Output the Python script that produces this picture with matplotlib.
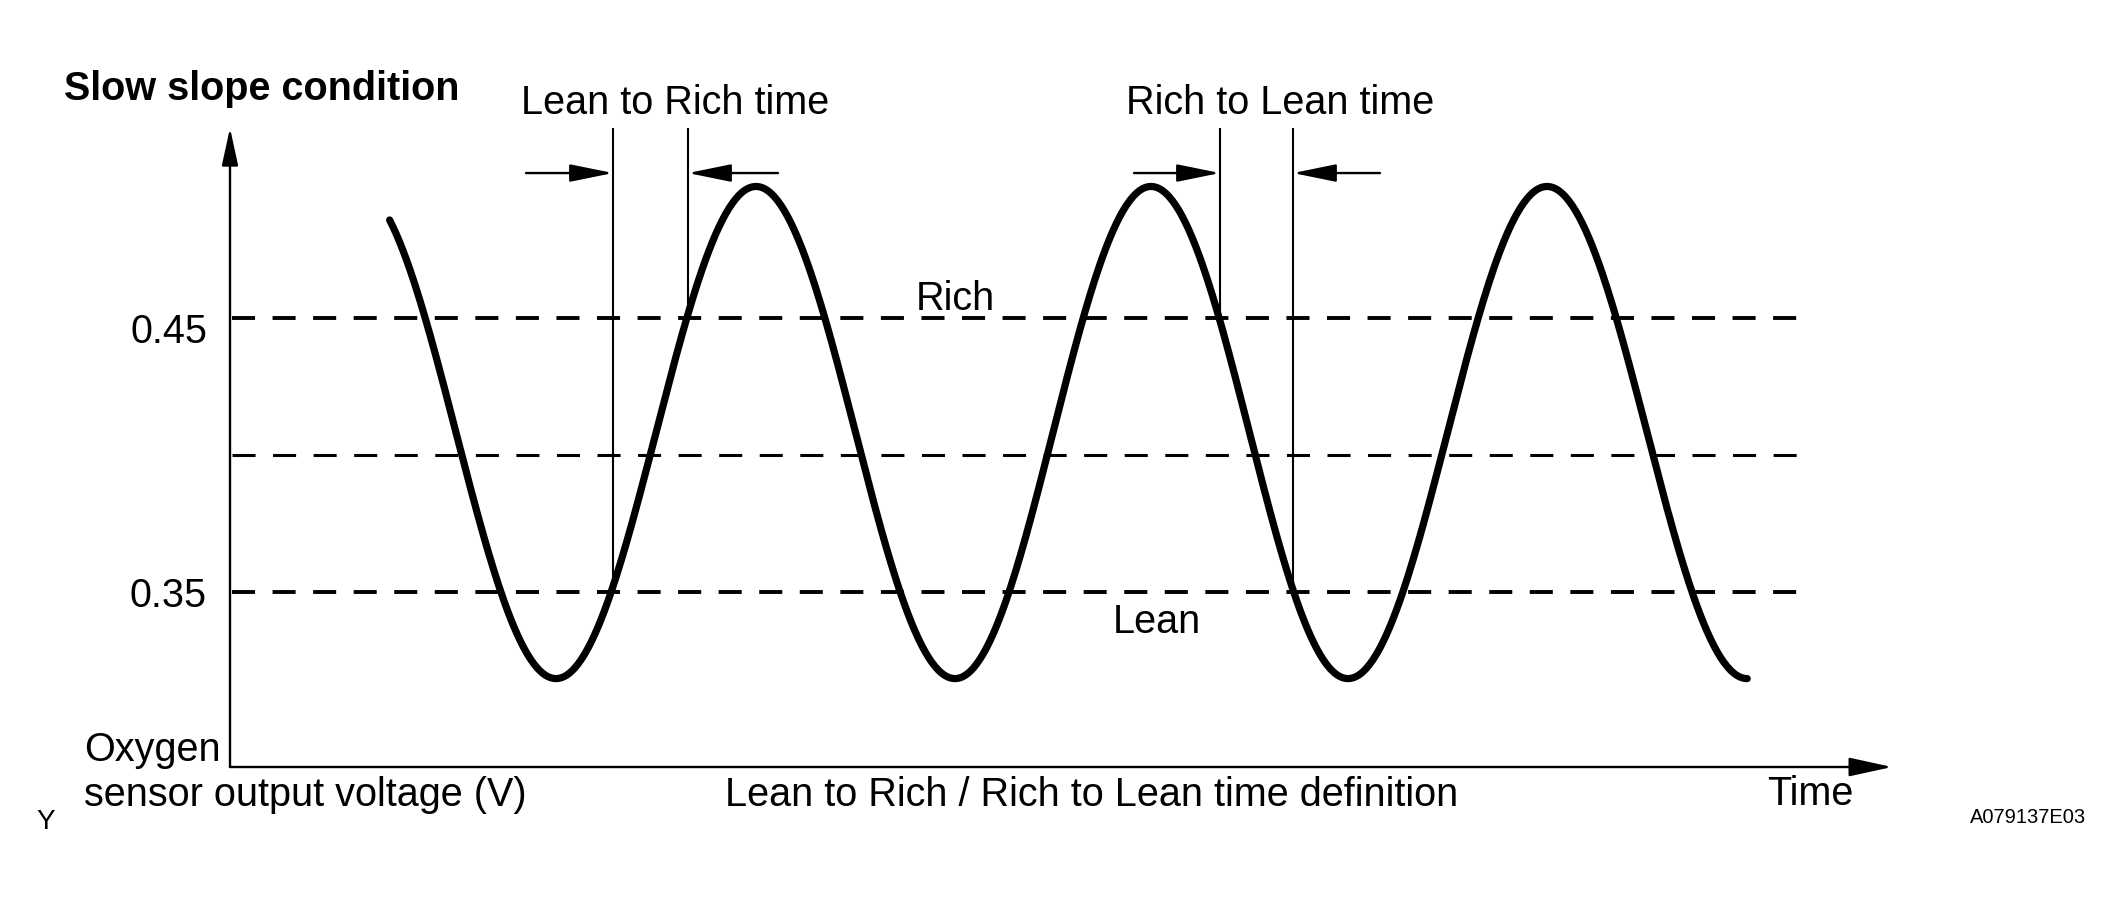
import numpy as np
import matplotlib
matplotlib.use("Agg")
import matplotlib.pyplot as plt

# ---------------- data ----------------
# turning points (peaks / troughs) of the oxygen-sensor waveform
turn_t = [3.15, 8.15, 13.15, 18.125, 23.025, 27.95, 32.925, 37.93]
turn_v = [0.498, 0.3184, 0.498, 0.3184, 0.498, 0.3184, 0.498, 0.3184]
start_t = 3.95          # visible start of the trace
end_t = 37.93           # visible end of the trace
ref_levels = [0.45, 0.40, 0.35]
tick_values = [0.45, 0.35]
tick_labels = ["0.45", "0.35"]
lean_to_rich = [9.575, 11.45]    # crossing of 0.35 (up) and 0.45 (up)
rich_to_lean = [24.75, 26.575]   # crossing of 0.45 (down) and 0.35 (down)
t_max = 41.55
v_min, v_max = 0.28613, 0.51934
dash_end = 39.55
marker_top = [0.5197, 0.5212]
arrow_v = 0.5029
arrow_tails_ltr = [7.4, 13.7]
arrow_tails_rtl = [22.6, 28.75]

plt.rcParams['font.family'] = ['Liberation Sans', 'DejaVu Sans']

W, H = 2124, 906
fig = plt.figure(figsize=(W / 100, H / 100), dpi=100)
ax = fig.add_axes([230 / W, 1 - 767 / H, (1892 - 230) / W, (767 - 128) / H])
ax.set_xlim(0, t_max)
ax.set_ylim(v_min, v_max)
ax.axis('off')


def fx(x):
    return x / W


def fy(y):
    return 1 - y / H


# axes with arrows
ax.annotate('', xy=(0, v_max), xytext=(0, v_min),
            arrowprops=dict(arrowstyle='-|>,head_length=23,head_width=5',
                            mutation_scale=1, lw=1.7, color='black',
                            shrinkA=0, shrinkB=0),
            annotation_clip=False)
ax.annotate('', xy=(t_max, v_min), xytext=(0, v_min),
            arrowprops=dict(arrowstyle='-|>,head_length=26.5,head_width=5.8',
                            mutation_scale=1, lw=1.7, color='black',
                            shrinkA=0, shrinkB=0),
            annotation_clip=False)

# reference dashed levels
for lvl in ref_levels:
    lw = 2.2 if abs(lvl - 0.40) < 1e-9 else 2.8
    ax.plot([0.05, dash_end], [lvl, lvl], color='black', lw=lw,
            dashes=(16.6 / lw, 12.6 / lw), solid_capstyle='butt')

# waveform: half-cosine between successive turning points
ts, vs = [], []
for i in range(len(turn_t) - 1):
    s = np.linspace(0, 1, 120)
    ts.append(turn_t[i] + (turn_t[i + 1] - turn_t[i]) * s)
    vs.append(turn_v[i] + (turn_v[i + 1] - turn_v[i]) * (1 - np.cos(np.pi * s)) / 2)
t = np.concatenate(ts)
v = np.concatenate(vs)
m = (t >= start_t) & (t <= end_t)
ax.plot(t[m], v[m], color='black', lw=5.2, solid_capstyle='round',
        solid_joinstyle='round')

# marker vertical lines
ax.plot([lean_to_rich[0]] * 2, [0.35, marker_top[0]], color='black', lw=1.5)
ax.plot([lean_to_rich[1]] * 2, [0.45, marker_top[1]], color='black', lw=1.5)
ax.plot([rich_to_lean[0]] * 2, [0.45, marker_top[1]], color='black', lw=1.5)
ax.plot([rich_to_lean[1]] * 2, [0.35, marker_top[0]], color='black', lw=1.5)

arrow_style = dict(arrowstyle='-|>,head_length=26.5,head_width=5.4',
                   mutation_scale=1, lw=1.7, color='black',
                   shrinkA=0, shrinkB=0)
for tail, tip in zip(arrow_tails_ltr, lean_to_rich):
    ax.annotate('', xy=(tip, arrow_v), xytext=(tail, arrow_v),
                arrowprops=arrow_style, annotation_clip=False)
for tail, tip in zip(arrow_tails_rtl, rich_to_lean):
    ax.annotate('', xy=(tip, arrow_v), xytext=(tail, arrow_v),
                arrowprops=arrow_style, annotation_clip=False)

FS = 28.5
# tick labels
for val, lbl, dy in zip(tick_values, tick_labels, [-10, -3]):
    ax.annotate(lbl, xy=(0, val), xytext=(-16.5, dy), textcoords='offset points',
                ha='right', va='center', fontsize=FS, annotation_clip=False)

fig.text(fx(64), fy(100), 'Slow slope condition', fontsize=28.5, fontweight='bold',
         ha='left', va='baseline')
fig.text(fx(675), fy(114), 'Lean to Rich time', fontsize=FS, ha='center', va='baseline')
fig.text(fx(1280), fy(114), 'Rich to Lean time', fontsize=FS, ha='center', va='baseline')
fig.text(fx(955), fy(310), 'Rich', fontsize=FS, ha='center', va='baseline')
fig.text(fx(1157), fy(633), 'Lean', fontsize=FS, ha='center', va='baseline')
fig.text(fx(84), fy(761), 'Oxygen', fontsize=FS, ha='left', va='baseline')
fig.text(fx(84), fy(806), 'sensor output voltage (V)', fontsize=FS, ha='left', va='baseline')
fig.text(fx(1092), fy(806), 'Lean to Rich / Rich to Lean time definition', fontsize=FS,
         ha='center', va='baseline')
fig.text(fx(1767), fy(805), 'Time', fontsize=FS, ha='left', va='baseline')
fig.text(fx(46), fy(829), 'Y', fontsize=20, ha='center', va='baseline')
fig.text(fx(1970), fy(823), 'A079137E03', fontsize=14.5, ha='left', va='baseline')

fig.savefig('out.png', dpi=100, facecolor='white')
